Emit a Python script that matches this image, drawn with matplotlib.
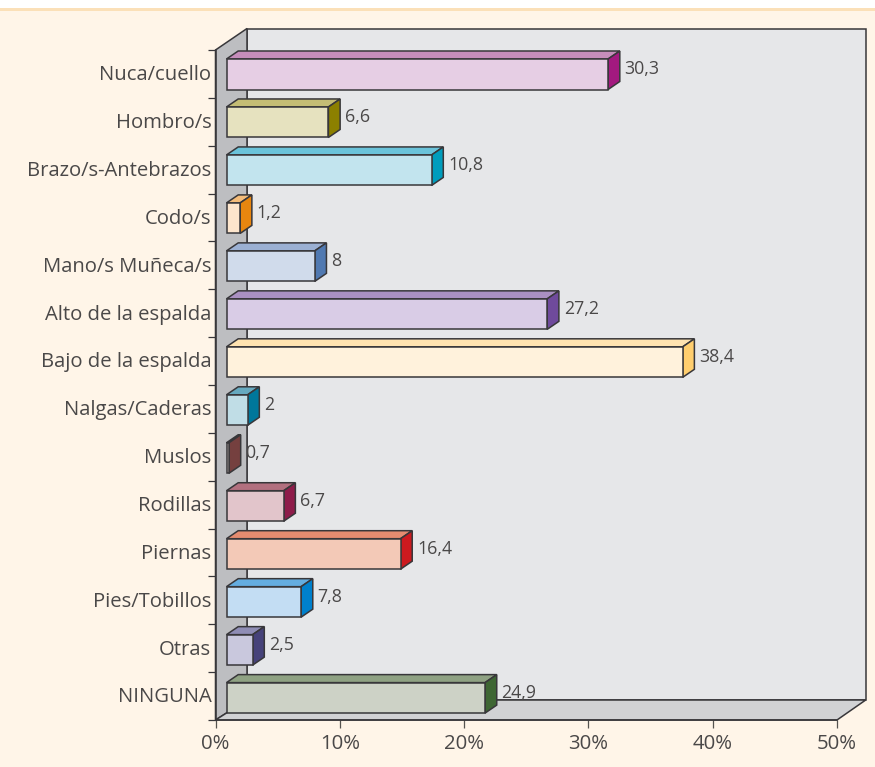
import matplotlib
matplotlib.use("Agg")
import matplotlib.pyplot as plt
from matplotlib.patches import Polygon, Rectangle

categories = ["Nuca/cuello", "Hombro/s", "Brazo/s-Antebrazos", "Codo/s", "Mano/s Muñeca/s",
              "Alto de la espalda", "Bajo de la espalda", "Nalgas/Caderas", "Muslos", "Rodillas",
              "Piernas", "Pies/Tobillos", "Otras", "NINGUNA"]
labels = ["30,3", "6,6", "10,8", "1,2", "8", "27,2", "38,4", "2", "0,7", "6,7", "16,4", "7,8", "2,5", "24,9"]
# drawn bar lengths as read against the axis (the source does not draw them to the printed value)
lengths = [30.7, 8.2, 16.5, 1.1, 7.1, 25.8, 36.7, 1.7, 0.2, 4.6, 14.0, 6.0, 2.1, 20.8]
fronts = ["#E6CEE4", "#E6E2BF", "#C2E4EE", "#FDE5CC", "#D0DBEB", "#D9CCE6", "#FFF2DC",
          "#C0DDE6", "#E8DAD6", "#E2C5CB", "#F3C9B7", "#C3DDF3", "#C9C8DD", "#CDD2C6"]
tops = ["#C68DBB", "#C4BD75", "#6AC3DA", "#F4BC7A", "#9BB0D3", "#AA90C2", "#FFE3B0",
        "#66A9BF", "#A5706F", "#B2707F", "#E58C70", "#64ADE0", "#8F8DB5", "#8FA283"]
sides = ["#A3197F", "#8C8000", "#009DBD", "#E8860F", "#5079B1", "#6F4A9C", "#FFCE6E",
         "#00779B", "#75403F", "#8E1C4A", "#CC1A1F", "#0080CC", "#46427A", "#3E6633"]
xticks = [0, 10, 20, 30, 40, 50]

W, H = 875, 767
BG, INK, EDGE = "#FFF5E8", "#4A4848", "#38373A"
plt.rcParams["font.family"] = ["Open Sans", "DejaVu Sans"]

fig = plt.figure(figsize=(W / 100, H / 100), dpi=100, facecolor="white")
fig.add_artist(Rectangle((0, 0), 1, 1 - 8 / H, transform=fig.transFigure, fc=BG, ec="none", zorder=-5))
fig.add_artist(Rectangle((0, 1 - 10.5 / H), 1, 2.5 / H, transform=fig.transFigure, fc="#FBE0B8", ec="none", zorder=-4))

L, R, T, B = 215.5, 837.0, 50.0, 720.0
ax = fig.add_axes([L / W, 1 - B / H, (R - L) / W, (B - T) / H])
n = len(categories)
ax.set_xlim(0, 50)
ax.set_ylim(n, 0)
ax.patch.set_visible(False)
for s in ax.spines.values():
    s.set_visible(False)
sx = 50 / (R - L)
sy = n / (B - T)

def poly(pts, fc, ec=EDGE, lw=1.1, z=2):
    ax.add_patch(Polygon(pts, closed=True, fc=fc, ec=ec, lw=lw, joinstyle="miter", zorder=z, clip_on=False))

# walls and floor
dx_l, dx_r, dy_top, dy_bot = 31.5 * sx, 28.7 * sx, 21.5 * sy, 20.0 * sy
poly([(dx_l, -dy_top), (50 + dx_r, -dy_top), (50 + dx_r, n - dy_bot), (dx_l, n - dy_bot)], "#E6E7E9")
poly([(0, 0), (dx_l, -dy_top), (dx_l, n - dy_bot), (0, n)], "#BDBEC1")
poly([(0, n), (dx_l, n - dy_bot), (50 + dx_r, n - dy_bot), (50, n)], "#D1D2D4")

# axes lines and ticks
ax.plot([0, 0], [0, n], color=EDGE, lw=1.1, zorder=3, clip_on=False)
ax.plot([0, 50], [n, n], color=EDGE, lw=1.1, zorder=3, clip_on=False)
ax.set_xticks(xticks, [f"{t}%" for t in xticks])
ax.set_yticks(range(n + 1), [""] * (n + 1))
ax.tick_params(axis="x", length=6, width=0.9, color="#55534F", labelsize=14.7, labelcolor=INK, pad=4)
ax.tick_params(axis="y", length=6, width=0.9, color=EDGE)
for i, c in enumerate(categories):
    ax.annotate(c, (0, i + 0.5), xytext=(-3, -1), textcoords="offset points", ha="right", va="center",
                fontsize=14.6, color=INK, annotation_clip=False)

# 3D bars
x0 = 11.0 * sx
bh = 30.5 * sy
ddx, ddy = 11.7 * sx, 8.0 * sy
y_first, pitch = (59.0 - T) * sy, 47.97 * sy
for i in range(n):
    y0 = y_first + i * pitch
    y1 = y0 + bh
    x1 = x0 + lengths[i]
    poly([(x0, y0), (x0 + ddx, y0 - ddy), (x1 + ddx, y0 - ddy), (x1, y0)], tops[i], z=4)
    poly([(x1, y0), (x1 + ddx, y0 - ddy), (x1 + ddx, y1 - ddy), (x1, y1)], sides[i], z=4)
    poly([(x0, y0), (x1, y0), (x1, y1), (x0, y1)], fronts[i], z=5)
    ax.annotate(labels[i], (x1 + ddx, y0 - ddy + (y1 - y0) / 2), xytext=(3.5, -2), textcoords="offset points",
                ha="left", va="center", fontsize=12.8, color=INK, annotation_clip=False, zorder=6)

fig.savefig("out.png", dpi=100, facecolor=fig.get_facecolor())
